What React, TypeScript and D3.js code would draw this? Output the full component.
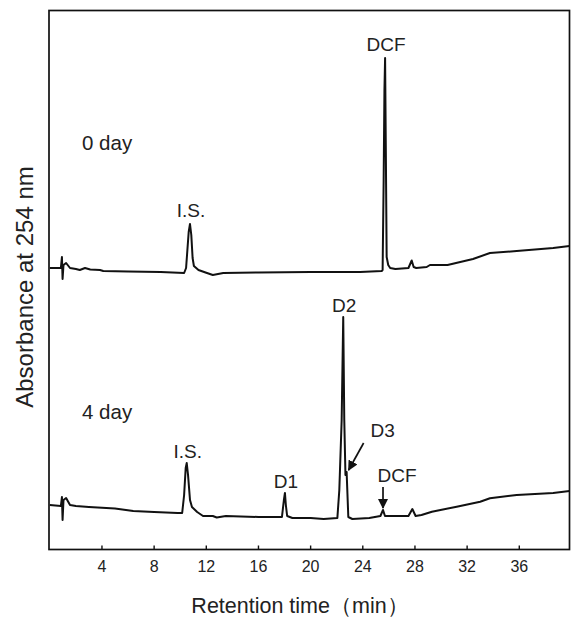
import React from "react";
import * as d3 from "d3";

// Retention time (min) and absorbance (arbitrary units)
const day0Time = [0, 0.85, 0.93, 0.98, 1.05, 1.25, 1.55, 2.0, 2.3, 2.7, 3.1, 3.85, 4.1, 6, 8.5, 10.3, 10.45, 10.55, 10.65, 10.75, 10.85, 10.95, 11.05, 11.4, 12.05, 12.5, 12.9, 13.3, 16, 20, 23.8, 25.45, 25.52, 25.6, 25.66, 25.71, 25.76, 25.83, 25.95, 26.1, 26.5, 27.5, 27.75, 27.9, 28.1, 28.9, 29.15, 30.5, 32.45, 33.75, 35.8, 38.6, 39.85];
const day0Abs = [281.5, 281.5, 292.5, 270.5, 284.5, 286.5, 281.5, 280.5, 279.5, 281.5, 280, 279.5, 278.5, 278, 277.5, 276.5, 281.5, 299.5, 317.5, 325.5, 314.5, 291.5, 283.5, 279.5, 276.5, 274.5, 275.5, 276.5, 277, 277.5, 277.5, 278.5, 279.5, 369.5, 459.5, 491.5, 409.5, 292.5, 284.5, 281.5, 280.5, 281.5, 289, 282.5, 281.5, 282.5, 284.5, 284.5, 290.5, 296.5, 298.5, 301.5, 303.5];

const day4Time = [0, 0.85, 0.93, 0.98, 1.05, 1.25, 1.55, 2.0, 3.0, 5.0, 6.4, 8.0, 9.8, 10.15, 10.3, 10.42, 10.5, 10.6, 10.75, 10.9, 11.3, 11.75, 12.5, 12.8, 13.5, 16.0, 17.8, 17.95, 18.03, 18.1, 18.2, 18.6, 20, 21, 22.05, 22.2, 22.38, 22.5, 22.58, 22.67, 22.76, 22.89, 23.2, 24.5, 25.35, 25.55, 25.7, 26.5, 27.5, 27.8, 28.05, 28.5, 29.3, 31.2, 33.0, 33.75, 35.8, 38.6, 39.85];
const day4Abs = [44.5, 43.5, 52.5, 29.5, 49.5, 51.5, 44.5, 43.5, 42.5, 41, 38.5, 37.5, 36.5, 36.5, 54.5, 81.5, 86.5, 74.5, 49.5, 42.5, 37.5, 33.5, 33.5, 32, 33.5, 32.5, 32.5, 49.5, 56.5, 44.5, 33.5, 31.5, 31.5, 30.5, 31.5, 59.5, 129.5, 232.5, 129.5, 74.5, 77.5, 32.5, 30.5, 31.5, 33.5, 39.5, 33.5, 33.5, 33.5, 40.5, 33.5, 34.5, 37.8, 42.8, 47.8, 51.2, 54.5, 56.5, 58.5];

const xTicks = [4, 8, 12, 16, 20, 24, 28, 32, 36];
const xDomain = [0, 39.85];
const yDomain = [0, 539];

const traceLabels = ["0 day", "4 day"];
// peak annotations: [label, time, absorbance]
const peakLabels0: [string, number, number][] = [["I.S.", 10.75, 325.5], ["DCF", 25.71, 491.5]];
const peakLabels4: [string, number, number][] = [["I.S.", 10.5, 86.5], ["D1", 18.03, 56.5], ["D2", 22.5, 232.5]];

const W = 573, H = 618;
const BOX = { left: 49, right: 569.5, top: 10.5, bottom: 549.5 };
const FONT = "'Liberation Sans', Arial, Helvetica, sans-serif";

export default function App() {
  const x = d3.scaleLinear().domain(xDomain).range([49.8, BOX.right]);
  const y = d3.scaleLinear().domain(yDomain).range([BOX.bottom, BOX.top]);
  const line = d3.line<[number, number]>().x(d => x(d[0])).y(d => y(d[1]));
  const d0 = line(day0Time.map((t, i) => [t, day0Abs[i]]));
  const d4 = line(day4Time.map((t, i) => [t, day4Abs[i]]));

  return (
    <svg width={W} height={H} style={{ position: "absolute", left: 0, top: 0, background: "#fff" }} fontFamily={FONT}>
      <defs>
        <marker id="ah" viewBox="0 0 10 10" refX="9" refY="5" markerWidth="6" markerHeight="6" orient="auto-start-reverse">
          <path d="M0,0 L10,5 L0,10 z" fill="#111" />
        </marker>
      </defs>
      <path d={d0 || ""} fill="none" stroke="#111" strokeWidth={2} strokeLinejoin="round" />
      <path d={d4 || ""} fill="none" stroke="#111" strokeWidth={2} strokeLinejoin="round" />
      <rect x={BOX.left} y={BOX.top} width={BOX.right - BOX.left} height={BOX.bottom - BOX.top} fill="none" stroke="#111" strokeWidth={1.7} />
      {xTicks.map(t => (
        <g key={t}>
          <line x1={x(t)} x2={x(t)} y1={BOX.bottom} y2={BOX.bottom - 4} stroke="#111" strokeWidth={1.4} />
          <text x={x(t)} y={572} fontSize={16} textAnchor="middle" fill="#222">{t}</text>
        </g>
      ))}
      <text x={300} y={613} fontSize={21.5} textAnchor="middle" fill="#222">Retention time（min）</text>
      <text transform={`translate(33,${(BOX.top + BOX.bottom) / 2 + 7}) rotate(-90)`} fontSize={24} textAnchor="middle" fill="#222">Absorbance at 254 nm</text>

      <text x={82} y={150} fontSize={20.5} fill="#222">{traceLabels[0]}</text>
      <text x={82} y={419} fontSize={20.5} fill="#222">{traceLabels[1]}</text>

      {peakLabels0.map(([l, t, v]) => (
        <text key={"a" + l} x={x(t) + 1} y={y(v) - 7} fontSize={19} textAnchor="middle" fill="#222">{l}</text>
      ))}
      {peakLabels4.map(([l, t, v]) => (
        <text key={"b" + l} x={x(t) + 1} y={y(v) - 5} fontSize={19} textAnchor="middle" fill="#222">{l}</text>
      ))}
      <text x={x(22.76) + 36} y={437} fontSize={19} textAnchor="middle" fill="#222">D3</text>
      <line x1={x(22.76) + 17} y1={443} x2={x(22.76) + 2} y2={470} stroke="#111" strokeWidth={1.7} markerEnd="url(#ah)" />
      <text x={x(25.55) + 14} y={482} fontSize={19} textAnchor="middle" fill="#222">DCF</text>
      <line x1={x(25.55)} y1={487} x2={x(25.55)} y2={y(39.5) - 2} stroke="#111" strokeWidth={1.7} markerEnd="url(#ah)" />
    </svg>
  );
}
